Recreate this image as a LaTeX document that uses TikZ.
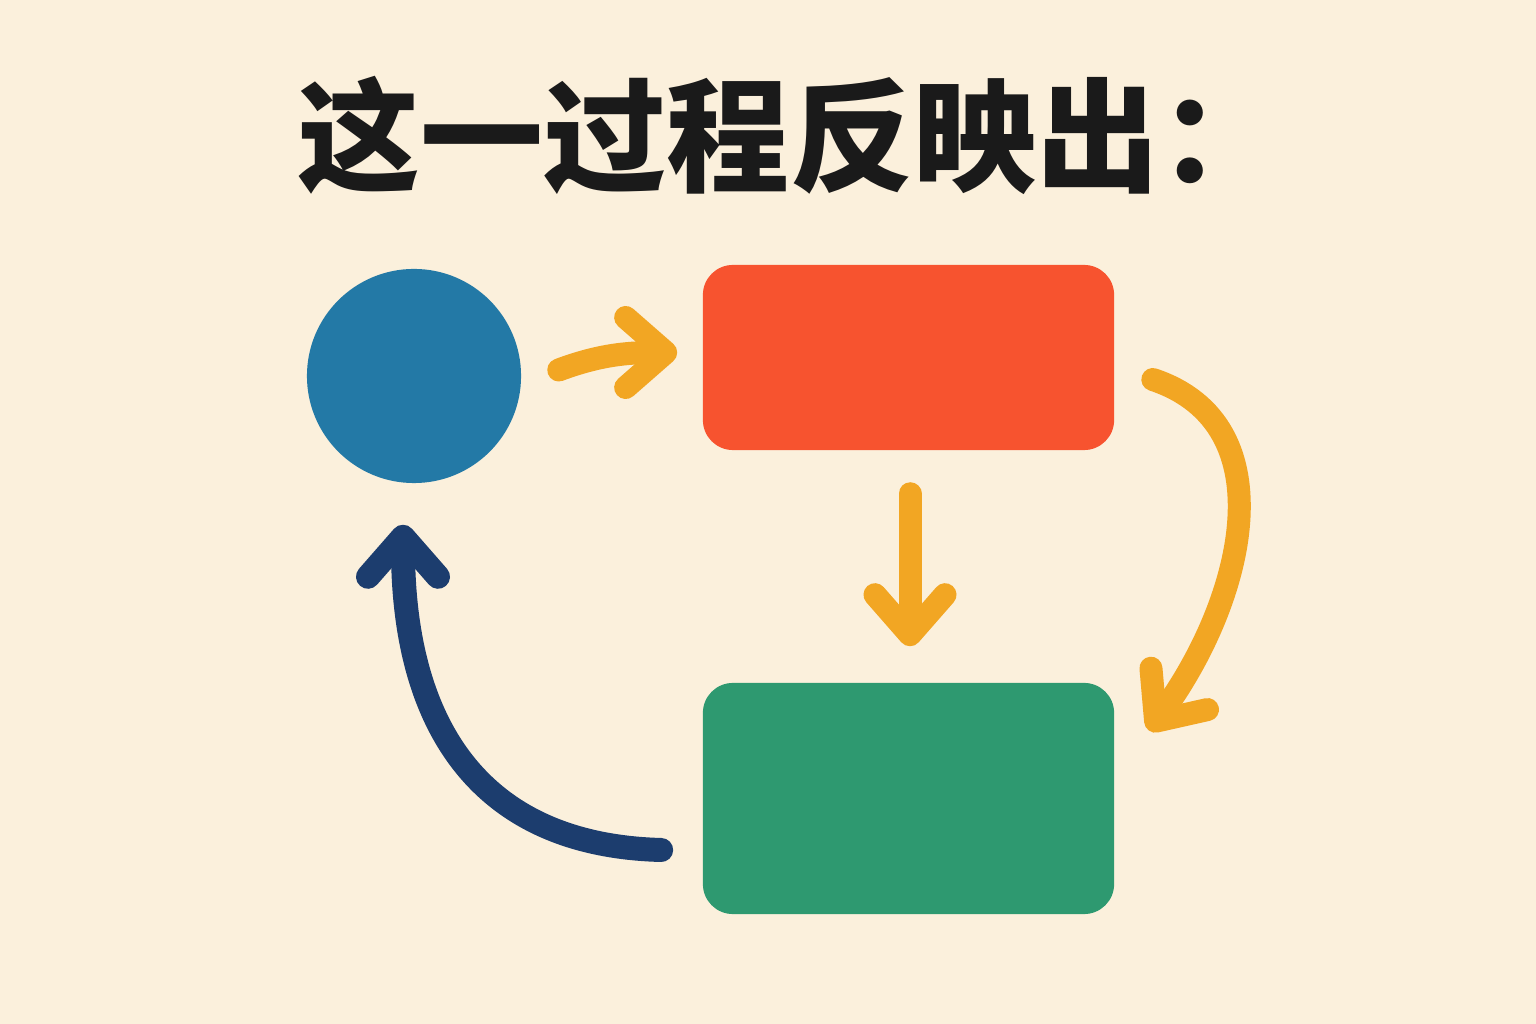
\documentclass[tikz,border=0pt]{standalone}
\usepackage{fontspec}
\newfontfamily\cjk{Noto Sans CJK SC}
\usetikzlibrary{arrows.meta}
\usetikzlibrary{calc}

\begin{document}
\begin{tikzpicture}
			[x=0.01cm,y=0.01cm,line cap=round,
			%Styles
			box/.style={rounded corners=0.3cm,minimum width=4.11cm,inner sep=0pt},
			dot/.style={circle,fill=dotcolor,minimum size=2.14cm,inner sep=0pt},
			flow/.style={line width=2.3mm,-{Straight Barb[length=4mm,width=7mm,round]}},
			title text/.style={font=\cjk\bfseries\fontsize{35}{42}\selectfont,text=textcolor}
			]
			
			%Colors
			\definecolor{bgcolor}{RGB}{251,240,220}
			\definecolor{dotcolor}{RGB}{35,121,166}
			\definecolor{redcolor}{RGB}{247,83,47}
			\definecolor{greencolor}{RGB}{46,153,112}
			\definecolor{arrowcolor}{RGB}{242,166,35}
			\definecolor{backcolor}{RGB}{28,61,110}
			\definecolor{textcolor}{RGB}{26,26,26}
			
			%Background
			\fill[bgcolor] (0,0) rectangle (1536,1024);
			\useasboundingbox (0,0) rectangle (1536,1024);
			
			%The graphic
			\node[title text] (title) at (790,889) {这一过程反映出：};
			
			\node[dot] (start) at (414,648) {};
			\node[box,fill=redcolor,minimum height=1.85cm] (redbox) at (908.5,666.5) {};
			\node[box,fill=greencolor,minimum height=2.31cm] (greenbox) at (908.5,225.5) {};
			
			\draw[flow,arrowcolor] ([shift={(37,6)}]start.east)
				.. controls +(40,15) and +(-50,0) .. ([shift={(-25,5)}]redbox.west);
			\draw[flow,arrowcolor] ([shift={(1.5,-43)}]redbox.south) -- ([shift={(1.5,36)}]greenbox.north);
			\draw[flow,arrowcolor] ([shift={(38,-22)}]redbox.east)
				.. controls +(135,-45) and +(95,130) .. ([shift={(34,68)}]greenbox.east);
			\draw[flow,backcolor,line width=2.4mm] ([shift={(-41,-51.5)}]greenbox.west)
				.. controls +(-190,5) and +(0,-190) .. ([shift={(-11,-41)}]start.south);
		\end{tikzpicture}
\end{document}
